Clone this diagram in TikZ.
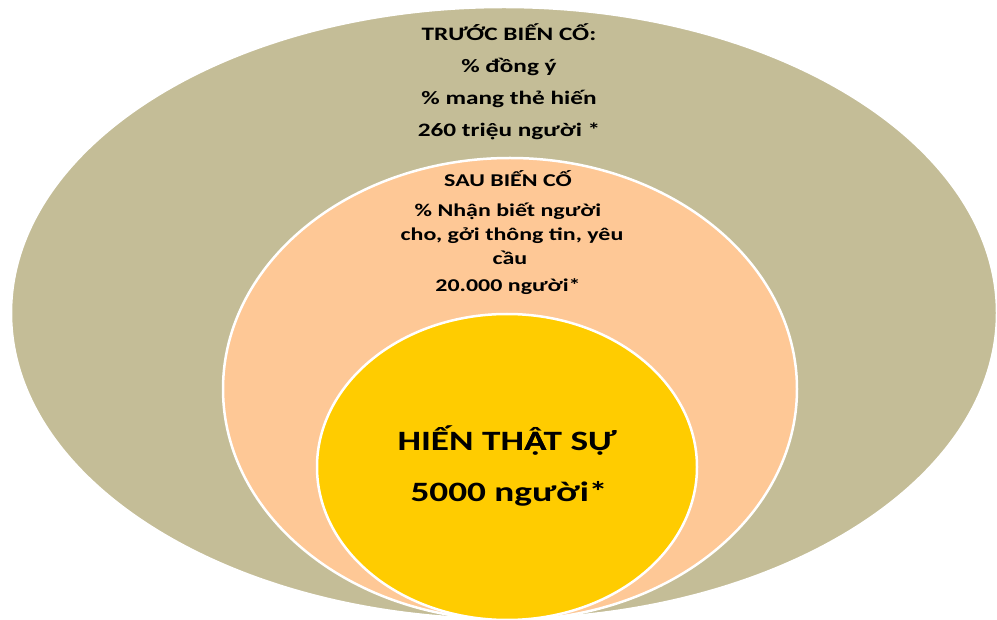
\documentclass[tikz,border=0pt]{standalone}
\usepackage{fontspec}
\setmainfont{Carlito}[FakeStretch=1.33]
\usepackage{tikz}
\definecolor{khaki}{HTML}{C4BD97}
\definecolor{peach}{HTML}{FEC896}
\definecolor{gold}{HTML}{FFCC00}
\begin{document}
\begin{tikzpicture}[x=1pt,y=-1pt,
    ring/.style={draw=white,line width=2.5pt},
    outertext/.style={anchor=base,font=\bfseries\fontsize{19}{19}\selectfont},
    midtext/.style={anchor=base,font=\bfseries\fontsize{18}{18}\selectfont},
    innertext/.style={anchor=base,font=\bfseries\fontsize{28}{28}\selectfont}]
    \clip (0,0) rectangle (997,620);
    %3つの楕円
    \draw[ring,fill=khaki] (504,313) ellipse [x radius=493,y radius=306];
    \draw[ring,fill=peach] (510,389) ellipse [x radius=287,y radius=231];
    \draw[ring,fill=gold] (507,467) ellipse [x radius=190,y radius=153];
    %外側
    \node[outertext] (before) at (509,41) {TRƯỚC BIẾN CỐ:};
    \node[outertext] (agree) at (509,73) {\% đồng ý};
    \node[outertext] (card) at (509,105) {\% mang thẻ hiến};
    \node[outertext] (million) at (509,137) {260 triệu người *};
    %中間
    \node[midtext] (after) at (508,187) {SAU BIẾN CỐ};
    \node[midtext] (know) at (508,217) {\% Nhận biết người};
    \node[midtext] (give) at (512,241) {cho, gởi thông tin, yêu};
    \node[midtext] (ask) at (510,265) {cầu};
    \node[midtext] (thousand) at (508,292) {20.000 người*};
    %内側
    \node[innertext] (real) at (507,451) {HIẾN TH\makebox[0pt][l]{Â}ẠT SỰ};
    \node[innertext] (donors) at (509,501) {5000 người*};
\end{tikzpicture}
\end{document}
